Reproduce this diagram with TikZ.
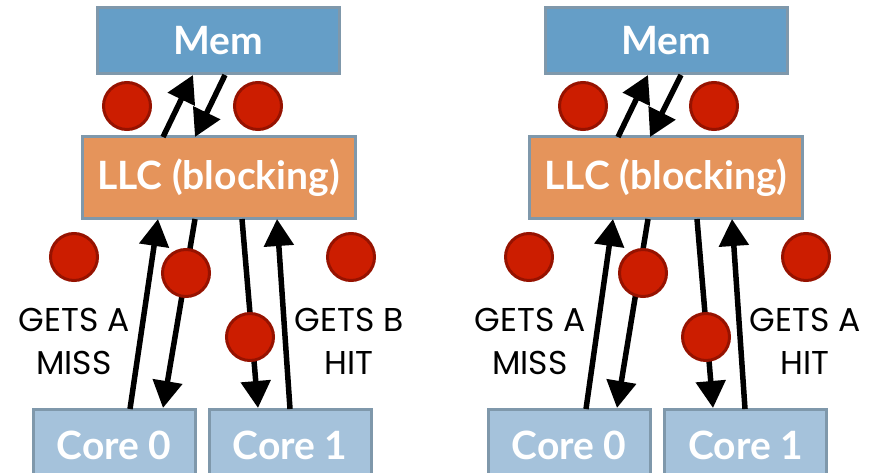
\documentclass[tikz,border=0pt]{standalone}
\usepackage{fontspec}
\setmainfont{Poppins}
\newfontfamily\boxfont{Lato}
\usetikzlibrary{arrows.meta}

\definecolor{memblue}{HTML}{659EC7}
\definecolor{llcorange}{HTML}{E5945B}
\definecolor{coreblue}{HTML}{A5C2DB}
\definecolor{edgegray}{HTML}{7F98AB}
\definecolor{tokred}{HTML}{CC1D00}
\definecolor{tokedge}{HTML}{961200}

\tikzset{
  unit/.style={draw=edgegray, line width=3pt, inner sep=0pt,
    text=white, font=\boxfont\bfseries\fontsize{39}{39}\selectfont},
  memunit/.style={unit, fill=memblue, minimum width=242pt, minimum height=66pt},
  llcunit/.style={unit, fill=llcorange, minimum width=273pt, minimum height=81pt},
  coreunit/.style={unit, fill=coreblue, minimum width=162pt, minimum height=72pt},
  token/.style={circle, fill=tokred, draw=tokedge, line width=3pt,
    minimum size=47pt, inner sep=0pt},
  req/.style={line width=5.5pt, -{Triangle[length=27pt,width=29pt]}},
  note/.style={align=center, inner sep=0pt,
    font=\fontsize{33}{43}\selectfont}
}

\begin{document}
\begin{tikzpicture}[x=1pt, y=-1pt]
\useasboundingbox (0,0) rectangle (877,473);

% ---------- left system ----------
\node[memunit] (memL) at (218,41) {Mem};
\node[llcunit] (llcL) at (218.5,177.5) {LLC (blocking)};
\node[coreunit] (c0L) at (114,445) {Core 0};
\node[coreunit] (c1L) at (290,445) {Core 1};

\coordinate (mupL0) at (163,137);  \coordinate (mupL1) at (193,75);
\coordinate (mdnL0) at (225,75);   \coordinate (mdnL1) at (195,137);
\coordinate (a0L) at (130,409);    \coordinate (a1L) at (158,219);
\coordinate (b0L) at (195,219);    \coordinate (b1L) at (163,408);
\coordinate (d0L) at (242,219);    \coordinate (d1L) at (258,408);
\coordinate (e0L) at (290,409);    \coordinate (e1L) at (277,219);

\draw[req] (mupL0) -- (mupL1);
\draw[req] (mdnL0) -- (mdnL1);
\draw[req] (a0L) -- (a1L);
\draw[req] (b0L) -- (b1L);
\draw[req] (d0L) -- (d1L);
\draw[req] (e0L) -- (e1L);

\node[token] (tL1) at (127,106) {};
\node[token] (tL2) at (258,106) {};
\node[token] (tL3) at (74,257) {};
\node[token] (tL4) at (186,273) {};
\node[token] (tL5) at (250,337) {};
\node[token] (tL6) at (351,257) {};

\node[note] (nL1) at (74,341) {GETS A\\MISS};
\node[note] (nL2) at (349,341) {GETS B\\HIT};

% ---------- right system ----------
\node[memunit] (memR) at (666,41) {Mem};
\node[llcunit] (llcR) at (666,177.5) {LLC (blocking)};
\node[coreunit] (c0R) at (569,445) {Core 0};
\node[coreunit] (c1R) at (745.5,445) {Core 1};

\coordinate (mupR0) at (618,137);  \coordinate (mupR1) at (648,75);
\coordinate (mdnR0) at (681,75);   \coordinate (mdnR1) at (650,137);
\coordinate (a0R) at (586,409);    \coordinate (a1R) at (613,219);
\coordinate (b0R) at (648,219);    \coordinate (b1R) at (617,408);
\coordinate (d0R) at (697,219);    \coordinate (d1R) at (713,408);
\coordinate (e0R) at (745,409);    \coordinate (e1R) at (732,219);

\draw[req] (mupR0) -- (mupR1);
\draw[req] (mdnR0) -- (mdnR1);
\draw[req] (a0R) -- (a1R);
\draw[req] (b0R) -- (b1R);
\draw[req] (d0R) -- (d1R);
\draw[req] (e0R) -- (e1R);

\node[token] (tR1) at (583,106) {};
\node[token] (tR2) at (714,106) {};
\node[token] (tR3) at (529,257) {};
\node[token] (tR4) at (643,273) {};
\node[token] (tR5) at (706,337) {};
\node[token] (tR6) at (806,257) {};

\node[note] (nR1) at (530,341) {GETS A\\MISS};
\node[note] (nR2) at (805,341) {GETS A\\HIT};
\end{tikzpicture}
\end{document}
